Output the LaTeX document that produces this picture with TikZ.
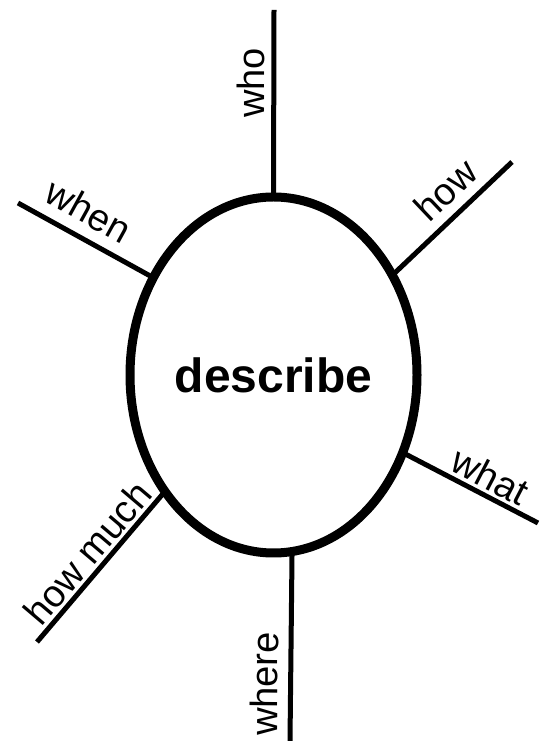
\documentclass[tikz,border=0pt]{standalone}
\usepackage{fontspec}
\setmainfont{Liberation Sans}
\usepackage{tikz}
\usetikzlibrary{
	shapes.geometric,
	positioning
}

\tikzset{
	spoke/.style={line width=5pt},
	word/.style={font=\fontsize{38}{38}\selectfont, sloped, inner sep=0pt},
	hub/.style={ellipse, draw, line width=9pt, inner sep=0pt, outer sep=0pt,
		minimum width=287pt, minimum height=356pt,
		font=\bfseries\fontsize{48}{48}\selectfont}
}

\begin{document}
\begin{tikzpicture}[x=1pt, y=1pt]
	\useasboundingbox (0,0) rectangle (539,741);
	\node[hub] (desc) at (273.5,366) {describe};
	\coordinate (who) at (274,731);
	\coordinate (how) at (512,579);
	\coordinate (when) at (18,538);
	\coordinate (what) at (538,218);
	\coordinate (howmuch) at (37,99);
	\coordinate (where) at (290,0);
	\draw[spoke] (desc.90) -- (who) node[word, pos=0.61, above=6pt] {who};
	\draw[spoke] (desc.40) -- (how) node[word, pos=0.59, above=9pt] {how};
	\draw[spoke] (desc.141.6) -- (when) node[word, pos=0.575, above=11pt] {when};
	\draw[spoke] (desc.-31.9) -- (what) node[word, pos=0.58, above=3pt] {what};
	\draw[spoke] (desc.227.8) -- (howmuch) node[word, pos=0.49, above=3pt] {how much};
	\draw[spoke] (desc.-84.8) -- (where) node[word, pos=0.70, above=10pt] {where};
\end{tikzpicture}
\end{document}
